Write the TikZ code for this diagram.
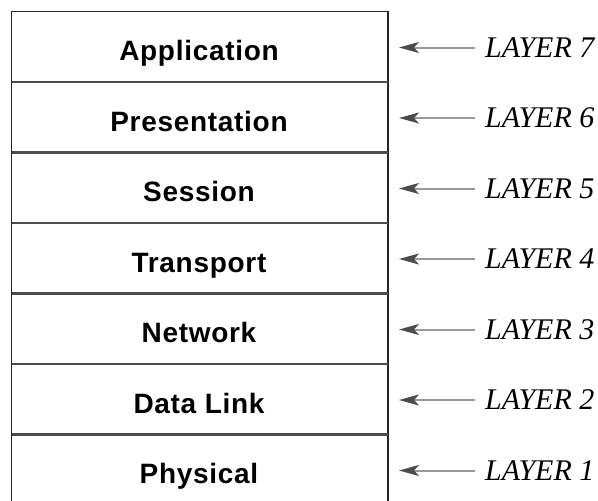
\documentclass[tikz,border=0pt]{standalone}
\usepackage{fontspec}
\setmainfont{Liberation Serif}
\newfontfamily\layerfont[LetterSpace=2.5]{Liberation Sans}
\usetikzlibrary{arrows.meta}
\begin{document}
\begin{tikzpicture}[x=1pt,y=-1pt,
  frame/.style={draw=black!85,line width=1.6pt},
  sep/.style={draw=black!70,line width=2.3pt},
  layertext/.style={anchor=base,inner sep=0pt,font=\layerfont\bfseries\fontsize{28}{30}\selectfont},
  layerlabel/.style={anchor=west,inner sep=0pt,font=\itshape\fontsize{30}{32}\selectfont},
  arr/.style={draw=black!40,line width=2pt,-{Stealth[length=20pt,width=11pt,inset=5pt,color=black!70,fill=black!70]}}]
\useasboundingbox (0,0) rectangle (598,501);
% frame
\draw[frame] (11.5,501) -- (11.5,11.5) -- (388,11.5) -- (388,501);
\foreach \k in {1,...,6}{
  \draw[sep] (11.5,{11.5+70.5*\k}) -- (388,{11.5+70.5*\k});
}
% layer texts
\foreach \k/\t in {0/Application,1/Presentation,2/Session,3/Transport,4/Network,5/Data Link,6/Physical}{
  \node[layertext] (n\k) at (199,{11.5+70.5*\k+49}) {\t};
}
% labels and arrows
\foreach \k/\n in {0/7,1/6,2/5,3/4,4/3,5/2,6/1}{
  \node[layerlabel] (L\n) at (485,{11.5+70.5*\k+36}) {LAYER \n};
  \coordinate (t\n) at (399,{11.5+70.5*\k+36});
  \draw[arr] ([xshift=-10pt]L\n.west) -- (t\n);
}
\end{tikzpicture}
\end{document}
